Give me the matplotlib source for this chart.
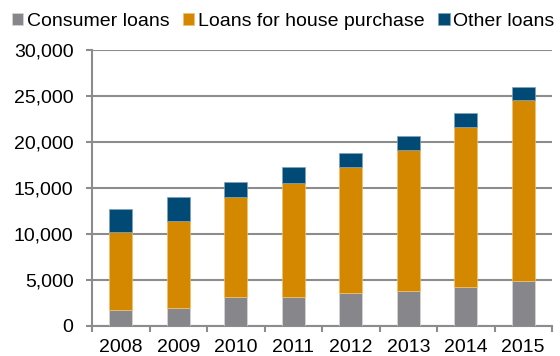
import matplotlib
matplotlib.use("Agg")
import matplotlib.pyplot as plt
import numpy as np
from matplotlib.ticker import FuncFormatter

years = ["2008", "2009", "2010", "2011", "2012", "2013", "2014", "2015"]
consumer = [1710, 1920, 3150, 3200, 3550, 3800, 4270, 4860]
house = [8540, 9490, 10870, 12380, 13730, 15330, 17390, 19740]
other = [2430, 2580, 1630, 1670, 1520, 1490, 1460, 1380]

GRAY = "#87868b"
ORANGE = "#d48800"
NAVY = "#004a75"
GRID = "#8c8c8c"
FS = 14

plt.rcParams["font.family"] = ["Liberation Sans", "DejaVu Sans"]

fig = plt.figure(figsize=(5.6, 3.56), dpi=100)
ax = fig.add_axes([92 / 560, 1 - 326 / 356, 460 / 560, 276 / 356])

x = np.arange(len(years))
bottom2 = np.array(consumer)
bottom3 = bottom2 + np.array(house)
ax.bar(x, consumer, width=0.4, color=GRAY, edgecolor="#d8d8d8", linewidth=0.5,
       label="Consumer loans", zorder=3)
ax.bar(x, house, width=0.4, bottom=bottom2, color=ORANGE, edgecolor="#f0c070",
       linewidth=0.5, label="Loans for house purchase", zorder=3)
ax.bar(x, other, width=0.4, bottom=bottom3, color=NAVY, edgecolor="#7fa4ba",
       linewidth=0.5, label="Other loans", zorder=3)

ax.set_xlim(-0.5, len(years) - 0.5)
ax.set_ylim(0, 30000)
ax.set_yticks(range(0, 30001, 5000))
ax.yaxis.set_major_formatter(FuncFormatter(lambda v, p: f"{int(v):,}"))
ax.yaxis.grid(True, color=GRID, linewidth=1.5, zorder=0)
ax.set_axisbelow(True)

# category boundaries carry the x ticks, year labels sit between them
ax.set_xticks(np.arange(-0.5, len(years), 1.0))
ax.set_xticklabels([])
ax.set_xticks(x, minor=True)
ax.set_xticklabels(years, minor=True)
ax.tick_params(axis="x", which="minor", length=0, pad=9, labelsize=FS)
ax.tick_params(axis="x", which="major", direction="out", length=4.3, width=1.5, color=GRID)
ax.tick_params(axis="y", direction="out", length=4.3, width=1.5, color=GRID,
               labelsize=FS, pad=9)

for s in ["top", "right"]:
    ax.spines[s].set_visible(False)
for s in ["left", "bottom"]:
    ax.spines[s].set_color(GRID)
    ax.spines[s].set_linewidth(1.5)

fig.legend(*ax.get_legend_handles_labels(), loc="center left",
           bbox_to_anchor=(12 / 560, 1 - 21 / 356), ncol=3, frameon=False,
           fontsize=FS, handlelength=0.57, handleheight=0.57, handletextpad=0.2,
           columnspacing=0.7, borderaxespad=0, borderpad=0)

fig.savefig("out.png", dpi=100)
